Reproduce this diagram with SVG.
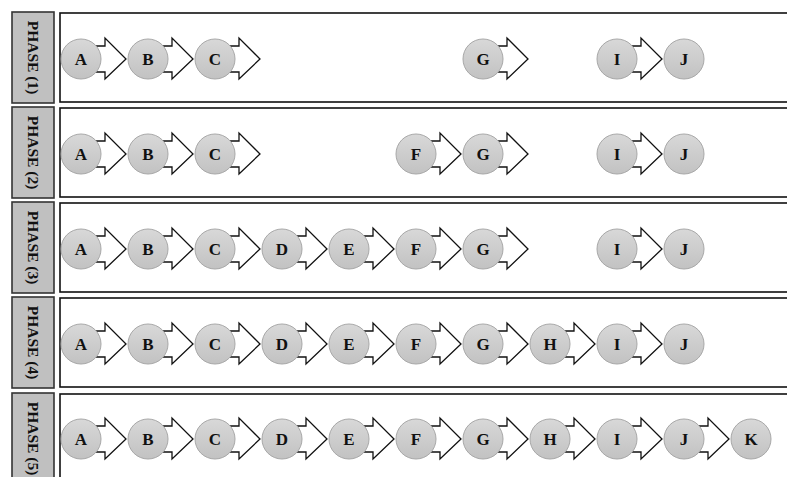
<svg xmlns="http://www.w3.org/2000/svg" width="787" height="477" viewBox="0 0 787 477">
<defs>
<linearGradient id="g" x1="0" y1="0" x2="0" y2="1">
<stop offset="0" stop-color="#d8d8d8"/>
<stop offset="1" stop-color="#c2c2c2"/>
</linearGradient>
</defs>
<style>
.lab{fill:#c0c0c0;stroke:#333;stroke-width:1.6}
.pan{fill:#fff;stroke:#111;stroke-width:1.6}
.lt{font-family:"Liberation Serif",serif;font-weight:bold;font-size:15.5px;fill:#111;text-anchor:middle;dominant-baseline:central}
.arr{fill:#fff;stroke:#111;stroke-width:1.3;stroke-linejoin:miter}
.nc{fill:url(#g);stroke:#a8a8a8;stroke-width:1}
.nt{font-family:"Liberation Serif",serif;font-weight:bold;font-size:17px;fill:#111;text-anchor:middle;dominant-baseline:central}
</style>
<rect width="787" height="477" fill="#fff"/>
<g id="phases">
<g id="phase1"><rect class="pan" x="60" y="13" width="740" height="89"/><rect class="lab" x="12" y="12" width="42" height="91"/><text class="lt" transform="translate(33,57.5) rotate(90)">PHASE (1)</text></g>
<g id="phase2"><rect class="pan" x="60" y="108" width="740" height="89"/><rect class="lab" x="12" y="107" width="42" height="91"/><text class="lt" transform="translate(33,152.5) rotate(90)">PHASE (2)</text></g>
<g id="phase3"><rect class="pan" x="60" y="203" width="740" height="89"/><rect class="lab" x="12" y="202" width="42" height="91"/><text class="lt" transform="translate(33,247.5) rotate(90)">PHASE (3)</text></g>
<g id="phase4"><rect class="pan" x="60" y="298" width="740" height="89"/><rect class="lab" x="12" y="297" width="42" height="91"/><text class="lt" transform="translate(33,342.5) rotate(90)">PHASE (4)</text></g>
<g id="phase5"><rect class="pan" x="60" y="394" width="740" height="89"/><rect class="lab" x="12" y="393" width="42" height="91"/><text class="lt" transform="translate(33,438.5) rotate(90)">PHASE (5)</text></g>
</g>
<g id="connectors">
<path class="arr" d="M81,46 h24 v-8 l21,21 l-21,20 v-7 h-24 z"/>
<path class="arr" d="M148,46 h24 v-8 l21,21 l-21,20 v-7 h-24 z"/>
<path class="arr" d="M215,46 h24 v-8 l21,21 l-21,20 v-7 h-24 z"/>
<path class="arr" d="M483,46 h24 v-8 l21,21 l-21,20 v-7 h-24 z"/>
<path class="arr" d="M617,46 h24 v-8 l21,21 l-21,20 v-7 h-24 z"/>

<path class="arr" d="M81,141 h24 v-8 l21,21 l-21,20 v-7 h-24 z"/>
<path class="arr" d="M148,141 h24 v-8 l21,21 l-21,20 v-7 h-24 z"/>
<path class="arr" d="M215,141 h24 v-8 l21,21 l-21,20 v-7 h-24 z"/>
<path class="arr" d="M416,141 h24 v-8 l21,21 l-21,20 v-7 h-24 z"/>
<path class="arr" d="M483,141 h24 v-8 l21,21 l-21,20 v-7 h-24 z"/>
<path class="arr" d="M617,141 h24 v-8 l21,21 l-21,20 v-7 h-24 z"/>

<path class="arr" d="M81,236 h24 v-8 l21,21 l-21,20 v-7 h-24 z"/>
<path class="arr" d="M148,236 h24 v-8 l21,21 l-21,20 v-7 h-24 z"/>
<path class="arr" d="M215,236 h24 v-8 l21,21 l-21,20 v-7 h-24 z"/>
<path class="arr" d="M282,236 h24 v-8 l21,21 l-21,20 v-7 h-24 z"/>
<path class="arr" d="M349,236 h24 v-8 l21,21 l-21,20 v-7 h-24 z"/>
<path class="arr" d="M416,236 h24 v-8 l21,21 l-21,20 v-7 h-24 z"/>
<path class="arr" d="M483,236 h24 v-8 l21,21 l-21,20 v-7 h-24 z"/>
<path class="arr" d="M617,236 h24 v-8 l21,21 l-21,20 v-7 h-24 z"/>

<path class="arr" d="M81,331 h24 v-8 l21,21 l-21,20 v-7 h-24 z"/>
<path class="arr" d="M148,331 h24 v-8 l21,21 l-21,20 v-7 h-24 z"/>
<path class="arr" d="M215,331 h24 v-8 l21,21 l-21,20 v-7 h-24 z"/>
<path class="arr" d="M282,331 h24 v-8 l21,21 l-21,20 v-7 h-24 z"/>
<path class="arr" d="M349,331 h24 v-8 l21,21 l-21,20 v-7 h-24 z"/>
<path class="arr" d="M416,331 h24 v-8 l21,21 l-21,20 v-7 h-24 z"/>
<path class="arr" d="M483,331 h24 v-8 l21,21 l-21,20 v-7 h-24 z"/>
<path class="arr" d="M550,331 h24 v-8 l21,21 l-21,20 v-7 h-24 z"/>
<path class="arr" d="M617,331 h24 v-8 l21,21 l-21,20 v-7 h-24 z"/>

<path class="arr" d="M81,426 h24 v-8 l21,21 l-21,20 v-7 h-24 z"/>
<path class="arr" d="M148,426 h24 v-8 l21,21 l-21,20 v-7 h-24 z"/>
<path class="arr" d="M215,426 h24 v-8 l21,21 l-21,20 v-7 h-24 z"/>
<path class="arr" d="M282,426 h24 v-8 l21,21 l-21,20 v-7 h-24 z"/>
<path class="arr" d="M349,426 h24 v-8 l21,21 l-21,20 v-7 h-24 z"/>
<path class="arr" d="M416,426 h24 v-8 l21,21 l-21,20 v-7 h-24 z"/>
<path class="arr" d="M483,426 h24 v-8 l21,21 l-21,20 v-7 h-24 z"/>
<path class="arr" d="M550,426 h24 v-8 l21,21 l-21,20 v-7 h-24 z"/>
<path class="arr" d="M617,426 h24 v-8 l21,21 l-21,20 v-7 h-24 z"/>
<path class="arr" d="M684,426 h24 v-8 l21,21 l-21,20 v-7 h-24 z"/>
</g>

<g id="p1-A"><circle class="nc" cx="81" cy="59" r="20"/><text class="nt" x="81" y="59">A</text></g>
<g id="p1-B"><circle class="nc" cx="148" cy="59" r="20"/><text class="nt" x="148" y="59">B</text></g>
<g id="p1-C"><circle class="nc" cx="215" cy="59" r="20"/><text class="nt" x="215" y="59">C</text></g>
<g id="p1-G"><circle class="nc" cx="483" cy="59" r="20"/><text class="nt" x="483" y="59">G</text></g>
<g id="p1-I"><circle class="nc" cx="617" cy="59" r="20"/><text class="nt" x="617" y="59">I</text></g>
<g id="p1-J"><circle class="nc" cx="684" cy="59" r="20"/><text class="nt" x="684" y="59">J</text></g>

<g id="p2-A"><circle class="nc" cx="81" cy="154" r="20"/><text class="nt" x="81" y="154">A</text></g>
<g id="p2-B"><circle class="nc" cx="148" cy="154" r="20"/><text class="nt" x="148" y="154">B</text></g>
<g id="p2-C"><circle class="nc" cx="215" cy="154" r="20"/><text class="nt" x="215" y="154">C</text></g>
<g id="p2-F"><circle class="nc" cx="416" cy="154" r="20"/><text class="nt" x="416" y="154">F</text></g>
<g id="p2-G"><circle class="nc" cx="483" cy="154" r="20"/><text class="nt" x="483" y="154">G</text></g>
<g id="p2-I"><circle class="nc" cx="617" cy="154" r="20"/><text class="nt" x="617" y="154">I</text></g>
<g id="p2-J"><circle class="nc" cx="684" cy="154" r="20"/><text class="nt" x="684" y="154">J</text></g>

<g id="p3-A"><circle class="nc" cx="81" cy="249" r="20"/><text class="nt" x="81" y="249">A</text></g>
<g id="p3-B"><circle class="nc" cx="148" cy="249" r="20"/><text class="nt" x="148" y="249">B</text></g>
<g id="p3-C"><circle class="nc" cx="215" cy="249" r="20"/><text class="nt" x="215" y="249">C</text></g>
<g id="p3-D"><circle class="nc" cx="282" cy="249" r="20"/><text class="nt" x="282" y="249">D</text></g>
<g id="p3-E"><circle class="nc" cx="349" cy="249" r="20"/><text class="nt" x="349" y="249">E</text></g>
<g id="p3-F"><circle class="nc" cx="416" cy="249" r="20"/><text class="nt" x="416" y="249">F</text></g>
<g id="p3-G"><circle class="nc" cx="483" cy="249" r="20"/><text class="nt" x="483" y="249">G</text></g>
<g id="p3-I"><circle class="nc" cx="617" cy="249" r="20"/><text class="nt" x="617" y="249">I</text></g>
<g id="p3-J"><circle class="nc" cx="684" cy="249" r="20"/><text class="nt" x="684" y="249">J</text></g>

<g id="p4-A"><circle class="nc" cx="81" cy="344" r="20"/><text class="nt" x="81" y="344">A</text></g>
<g id="p4-B"><circle class="nc" cx="148" cy="344" r="20"/><text class="nt" x="148" y="344">B</text></g>
<g id="p4-C"><circle class="nc" cx="215" cy="344" r="20"/><text class="nt" x="215" y="344">C</text></g>
<g id="p4-D"><circle class="nc" cx="282" cy="344" r="20"/><text class="nt" x="282" y="344">D</text></g>
<g id="p4-E"><circle class="nc" cx="349" cy="344" r="20"/><text class="nt" x="349" y="344">E</text></g>
<g id="p4-F"><circle class="nc" cx="416" cy="344" r="20"/><text class="nt" x="416" y="344">F</text></g>
<g id="p4-G"><circle class="nc" cx="483" cy="344" r="20"/><text class="nt" x="483" y="344">G</text></g>
<g id="p4-H"><circle class="nc" cx="550" cy="344" r="20"/><text class="nt" x="550" y="344">H</text></g>
<g id="p4-I"><circle class="nc" cx="617" cy="344" r="20"/><text class="nt" x="617" y="344">I</text></g>
<g id="p4-J"><circle class="nc" cx="684" cy="344" r="20"/><text class="nt" x="684" y="344">J</text></g>

<g id="p5-A"><circle class="nc" cx="81" cy="439" r="20"/><text class="nt" x="81" y="439">A</text></g>
<g id="p5-B"><circle class="nc" cx="148" cy="439" r="20"/><text class="nt" x="148" y="439">B</text></g>
<g id="p5-C"><circle class="nc" cx="215" cy="439" r="20"/><text class="nt" x="215" y="439">C</text></g>
<g id="p5-D"><circle class="nc" cx="282" cy="439" r="20"/><text class="nt" x="282" y="439">D</text></g>
<g id="p5-E"><circle class="nc" cx="349" cy="439" r="20"/><text class="nt" x="349" y="439">E</text></g>
<g id="p5-F"><circle class="nc" cx="416" cy="439" r="20"/><text class="nt" x="416" y="439">F</text></g>
<g id="p5-G"><circle class="nc" cx="483" cy="439" r="20"/><text class="nt" x="483" y="439">G</text></g>
<g id="p5-H"><circle class="nc" cx="550" cy="439" r="20"/><text class="nt" x="550" y="439">H</text></g>
<g id="p5-I"><circle class="nc" cx="617" cy="439" r="20"/><text class="nt" x="617" y="439">I</text></g>
<g id="p5-J"><circle class="nc" cx="684" cy="439" r="20"/><text class="nt" x="684" y="439">J</text></g>
<g id="p5-K"><circle class="nc" cx="751" cy="439" r="20"/><text class="nt" x="751" y="439">K</text></g>
</svg>
